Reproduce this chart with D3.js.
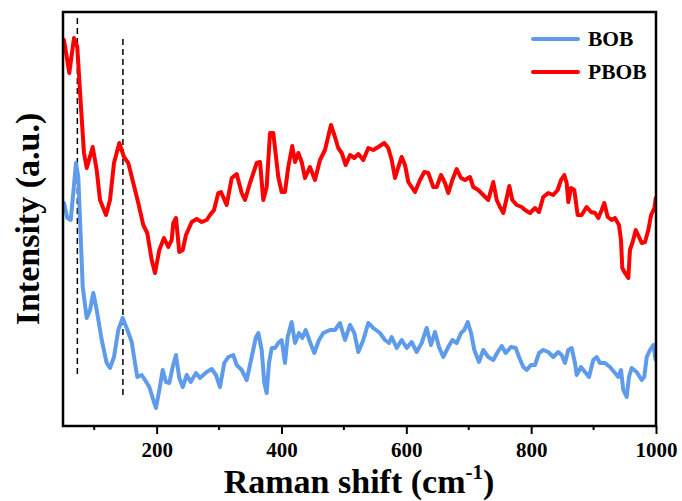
<!DOCTYPE html>
<html>
<head>
<meta charset="utf-8">
<script src="https://cdn.jsdelivr.net/npm/d3@7"></script>
<style>
  body { margin: 0; background: #fff; }
  svg { display: block; }
</style>
</head>
<body>
<svg id="chart" width="682" height="501"></svg>
<script>
// Raman shift (cm-1) and intensity (a.u.)
var pbobShift = [51.6, 60.1, 67.6, 72.9, 78.4, 83.6, 88.0, 97.6, 104.0, 109.3, 118.9, 125.3, 131.7, 140.2, 147.7,
  154.6, 162.6, 170.6, 178.6, 185.0, 192.1, 197.4, 204.3, 211.8, 218.7, 224.1, 226.7, 231.0, 236.3, 241.8,
  247.0, 256.2, 264.2, 272.2, 280.2, 285.5, 291.9, 298.8, 303.1, 312.2, 320.3, 328.3, 336.3, 341.6, 349.6,
  360.3, 365.6, 370.9, 376.3, 381.6, 386.9, 394.9, 400.3, 405.6, 410.9, 417.3, 421.7, 427.0, 432.4, 437.7,
  445.7, 453.7, 461.7, 469.7, 479.3, 485.7, 491.0, 496.5, 502.9, 509.8, 516.7, 523.1, 531.1, 539.1, 547.1,
  555.1, 564.7, 571.1, 576.6, 581.9, 587.2, 592.6, 597.9, 603.2, 613.9, 621.9, 628.8, 635.2, 643.2, 648.7,
  655.6, 662.0, 667.3, 673.7, 680.7, 687.6, 694.0, 702.0, 707.3, 715.3, 723.3, 731.3, 739.3, 744.8, 750.1,
  755.4, 760.8, 765.0, 769.8, 776.8, 784.8, 790.1, 798.1, 806.1, 812.6, 819.4, 827.4, 835.4, 842.5, 847.8,
  853.1, 856.9, 859.5, 863.8, 869.1, 874.5, 880.9, 888.9, 895.9, 902.3, 907.6, 913.0, 917.2, 922.6, 929.0,
  934.3, 940.7, 943.9, 946.0, 950.3, 955.6, 958.3, 963.6, 967.5, 972.8, 977.1, 982.4, 987.7, 992.1, 997.4, 999.6];
var pbobIntensity = [386, 353, 388, 379, 323, 273, 258, 279, 256, 226, 211, 226, 263, 283, 269,
  263, 243, 223, 201, 193, 166, 153, 176, 188, 179, 186, 203, 208, 174, 176,
  191, 204, 207, 204, 206, 211, 216, 233, 234, 221, 248, 252, 233, 226, 243,
  263, 264, 226, 239, 293, 293, 249, 234, 234, 259, 280, 264, 273, 264, 248,
  259, 246, 266, 276, 301, 289, 278, 273, 261, 271, 268, 272, 266, 278, 276,
  279, 283, 278, 266, 248, 259, 269, 261, 244, 234, 246, 254, 253, 239, 239,
  251, 243, 233, 246, 257, 248, 246, 249, 239, 236, 231, 226, 244, 226, 219,
  213, 228, 240, 226, 221, 219, 216, 213, 218, 214, 229, 233, 231, 236, 246,
  251, 243, 224, 238, 236, 211, 211, 219, 214, 213, 208, 216, 223, 209, 206,
  208, 201, 186, 158, 153, 148, 176, 186, 196, 189, 183, 184, 196, 211, 218, 228];

var bobShift = [51.6, 56.9, 62.3, 66.5, 70.8, 74.5, 78.4, 81.6, 88.0, 93.3, 98.5, 104.0, 112.0, 120.0, 125.3,
  131.7, 138.6, 145.6, 152.0, 160.1, 165.3, 169.0, 176.1, 181.4, 188.3, 194.7, 199.0, 204.3, 209.7, 215.0,
  220.3, 225.7, 231.0, 236.3, 241.8, 248.2, 254.6, 263.1, 269.5, 280.2, 288.2, 295.1, 301.5, 308.4, 314.8,
  322.8, 328.3, 336.3, 344.3, 352.3, 358.7, 362.9, 368.3, 372.5, 376.3, 380.0, 384.4, 389.6, 394.9, 400.3,
  405.6, 409.9, 416.3, 421.7, 428.1, 433.4, 438.8, 445.7, 452.6, 460.1, 467.0, 477.7, 485.7, 493.7, 501.7,
  509.8, 516.7, 523.1, 531.1, 539.1, 547.1, 557.8, 565.8, 572.3, 576.6, 584.6, 592.6, 600.6, 608.6, 616.6,
  624.6, 632.6, 639.5, 645.9, 652.4, 659.2, 667.2, 673.7, 680.7, 687.6, 692.9, 698.4, 703.7, 709.0, 716.4,
  723.3, 731.3, 739.3, 746.4, 752.8, 759.2, 767.7, 775.3, 780.6, 787.4, 792.9, 799.7, 806.1, 812.6, 819.4,
  827.4, 835.4, 843.4, 848.9, 854.2, 859.5, 864.9, 870.2, 872.9, 879.8, 886.2, 892.7, 899.5, 905.0, 910.3,
  918.3, 926.3, 934.3, 939.6, 943.9, 947.6, 953.0, 956.7, 961.0, 969.0, 977.1, 981.2, 985.1, 990.4, 995.7, 999.6];
var bobIntensity = [223, 208, 206, 233, 263, 249, 189, 139, 108, 116, 133, 116, 86, 63, 58,
  69, 96, 108, 98, 84, 63, 49, 51, 46, 39, 26, 18, 36, 56, 44,
  43, 59, 71, 48, 39, 51, 44, 53, 48, 54, 57, 51, 39, 63, 69,
  71, 61, 56, 46, 69, 88, 93, 76, 43, 33, 63, 78, 78, 83, 86,
  63, 89, 104, 83, 93, 88, 96, 84, 73, 86, 93, 96, 96, 103, 86,
  101, 93, 74, 86, 103, 98, 93, 86, 83, 89, 78, 86, 78, 84, 74,
  83, 98, 81, 94, 79, 69, 79, 86, 83, 93, 96, 104, 93, 76, 64,
  76, 69, 66, 74, 80, 73, 79, 78, 69, 59, 56, 61, 61, 73, 76,
  74, 69, 74, 71, 63, 76, 78, 63, 51, 59, 54, 49, 66, 69, 63,
  63, 59, 53, 49, 56, 36, 29, 49, 58, 54, 46, 49, 69, 76, 81, 66];

var xTicks = [200, 400, 600, 800, 1000];
var xMinorTicks = [100, 300, 500, 700, 900];
var markerShifts = [73, 146];   // dashed guide lines
var seriesNames = ['BOB', 'PBOB'];
var seriesColours = ['#5e9bea', '#ff0000'];

var svg = d3.select('#chart');
// note: "top" is taken by window.top, so plot* names
var plotLeft = 63, plotRight = 656, plotTop = 12, plotBottom = 426;
var fontFamily = '"Liberation Serif", "Times New Roman", serif';

var x = d3.scaleLinear().domain([50, 1000]).range([plotLeft, plotRight]);
var y = d3.scaleLinear().domain([0, 414]).range([plotBottom, plotTop]);

svg.append('clipPath').attr('id', 'plotClip')
  .append('rect')
  .attr('x', plotLeft).attr('y', plotTop)
  .attr('width', plotRight - plotLeft).attr('height', plotBottom - plotTop);

// Dashed guide lines
var guideTop = [18, 39], guideBottom = [376, 395];
svg.selectAll('line.guide')
  .data(markerShifts)
  .enter().append('line')
  .attr('class', 'guide')
  .attr('x1', function (d) { return x(d) })
  .attr('x2', function (d) { return x(d) })
  .attr('y1', function (d, i) { return guideTop[i] })
  .attr('y2', function (d, i) { return guideBottom[i] })
  .attr('stroke', 'black')
  .attr('stroke-width', 1.5)
  .attr('stroke-dasharray', '6,4');

var line = d3.line()
  .x(function (d) { return x(d[0]) })
  .y(function (d) { return y(d[1]) });

var seriesData = [d3.zip(bobShift, bobIntensity), d3.zip(pbobShift, pbobIntensity)];

svg.append('g').attr('clip-path', 'url(#plotClip)')
  .selectAll('path')
  .data(seriesData)
  .enter().append('path')
  .attr('d', line)
  .attr('fill', 'none')
  .attr('stroke', function (d, i) { return seriesColours[i] })
  .attr('stroke-width', 4)
  .attr('stroke-linejoin', 'round')
  .attr('stroke-linecap', 'round');

// Bottom axis with major and minor ticks
var xAxis = svg.append('g')
  .attr('transform', 'translate(0,' + plotBottom + ')')
  .call(d3.axisBottom(x).tickValues(xTicks).tickSize(8).tickFormat(d3.format('d')));
xAxis.select('.domain').remove();
xAxis.selectAll('line').attr('stroke', 'black').attr('stroke-width', 2);
xAxis.selectAll('text')
  .attr('font-family', fontFamily)
  .attr('font-weight', 'bold')
  .attr('font-size', 21)
  .attr('fill', 'black')
  .attr('dy', '0.95em');

svg.append('g')
  .selectAll('line')
  .data(xMinorTicks)
  .enter().append('line')
  .attr('x1', function (d) { return x(d) })
  .attr('x2', function (d) { return x(d) })
  .attr('y1', plotBottom)
  .attr('y2', plotBottom + 4)
  .attr('stroke', 'black')
  .attr('stroke-width', 2);

// Frame
svg.append('rect')
  .attr('x', plotLeft).attr('y', plotTop)
  .attr('width', plotRight - plotLeft).attr('height', plotBottom - plotTop)
  .attr('fill', 'none')
  .attr('stroke', 'black')
  .attr('stroke-width', 2.5);

// Axis titles
var xTitle = svg.append('text')
  .attr('x', 359)
  .attr('y', 493)
  .attr('text-anchor', 'middle')
  .attr('font-family', fontFamily)
  .attr('font-weight', 'bold')
  .attr('font-size', 34)
  .attr('fill', 'black');
xTitle.append('tspan').text('Raman shift (cm');
xTitle.append('tspan').text('-1').attr('font-size', 21).attr('dy', -14);
xTitle.append('tspan').text(')').attr('dy', 14);

svg.append('text')
  .attr('transform', 'translate(39,219) rotate(-90)')
  .attr('text-anchor', 'middle')
  .attr('font-family', fontFamily)
  .attr('font-weight', 'bold')
  .attr('font-size', 34)
  .attr('fill', 'black')
  .text('Intensity (a.u.)');

// Legend
var legend = svg.append('g')
  .selectAll('g')
  .data(seriesNames)
  .enter().append('g')
  .attr('transform', function (d, i) { return 'translate(533,' + (39 + i * 33) + ')' });

legend.append('line')
  .attr('x1', 0).attr('x2', 45)
  .attr('stroke', function (d, i) { return seriesColours[i] })
  .attr('stroke-width', 4)
  .attr('stroke-linecap', 'round');

legend.append('text')
  .attr('x', 55)
  .attr('dy', 7)
  .attr('font-family', fontFamily)
  .attr('font-weight', 'bold')
  .attr('font-size', 21.5)
  .attr('fill', 'black')
  .text(function (d) { return d });
</script>
</body>
</html>
